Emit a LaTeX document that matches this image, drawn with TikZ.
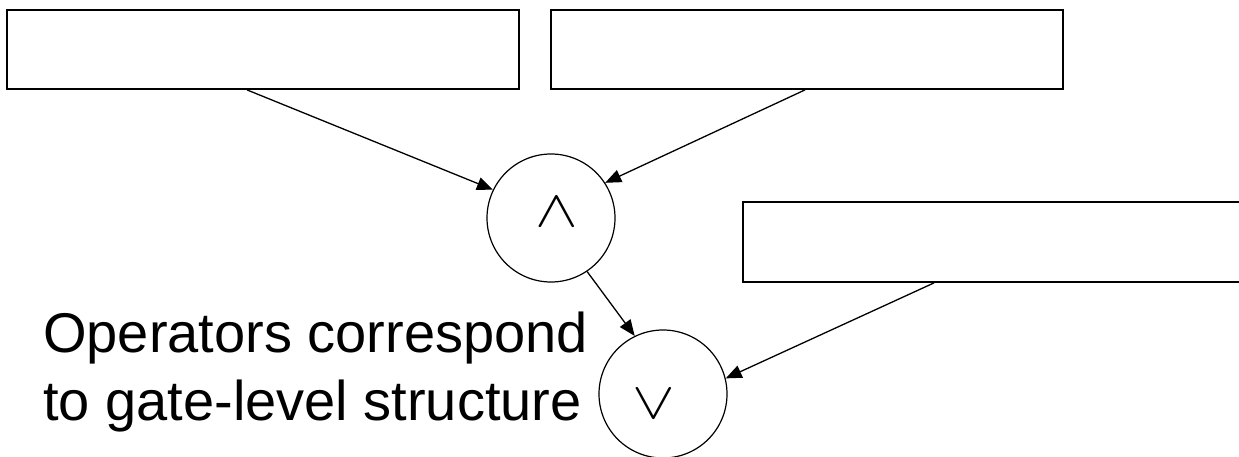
\documentclass[tikz,border=0pt]{standalone}
\usepackage{fontspec}
\setmainfont{Liberation Sans}
\usetikzlibrary{arrows.meta}
\begin{document}
\begin{tikzpicture}[x=1pt,y=-1pt,
  termbox/.style={draw,line width=1.8pt,minimum width=512pt,minimum height=79pt,inner sep=0pt},
  gate/.style={draw,circle,line width=1.2pt,minimum size=128pt,inner sep=0pt},
  opsym/.style={inner sep=0pt},
  arr/.style={line width=1.3pt,-{Triangle[length=16pt,width=13pt]}}]
  \useasboundingbox (0,0) rectangle (1239,457);
  % operand boxes
  \node[termbox] (b1) at (263,49.5) {};
  \node[termbox] (b2) at (807,49.5) {};
  \node[termbox,minimum height=80pt] (b3) at (999,242) {};
  % operator circles
  \node[gate] (and) at (551,218) {};
  \node[gate] (or) at (663,394) {};
  \node[opsym] (andsym) at (557,212) {\scalebox{6.4}[5.2]{$\wedge$}};
  \node[opsym] (orsym) at (654,404) {\scalebox{6.4}[5.2]{$\vee$}};
  % connections
  \draw[arr] ([xshift=-16pt]b1.south) -- (and.154);
  \draw[arr] ([xshift=-2pt]b2.south) -- (and.33);
  \draw[arr] (and.-56) -- (or.116);
  \draw[arr] ([xshift=-65pt]b3.south) -- (or.14);
  % caption
  \node[anchor=base west,align=left,inner sep=0pt,
        font=\fontsize{56}{68}\selectfont] (cap) at (43,420)
    {Operators correspond\\to gate-level structure};
\end{tikzpicture}
\end{document}
